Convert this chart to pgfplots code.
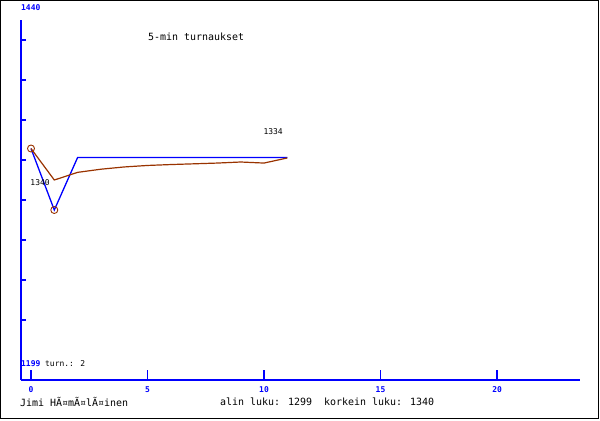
\documentclass[border=0pt]{standalone}
\usepackage{pgfplots}
\pgfplotsset{compat=1.18}
\usepackage{fontspec}
\setmainfont{DejaVu Sans Mono}
\definecolor{brn}{RGB}{153,51,0}
\begin{document}
\begin{tikzpicture}[x=1bp,y=1bp]
\useasboundingbox (0,0) rectangle (600,420);
\draw[line width=1.2bp] (0.6,1.2) rectangle (598.8,419.4);
\begin{axis}[
  at={(21bp,40bp)}, anchor=south west,
  scale only axis, width=559bp, height=360bp,
  xmin=-0.429, xmax=23.56, ymin=1185.67, ymax=1425.67,
  axis lines=left,
  axis line style={-, blue, line width=1.2bp},
  xtick={0,5,10,15,20},
  ytick={1225.67,1252.33,1279,1305.67,1332.33,1359,1385.67,1412.33},
  yticklabels={},
  tick align=inside,
  x tick style={blue, line width=1.2bp, /pgfplots/major tick length=10bp},
  y tick style={blue, line width=1.2bp, /pgfplots/major tick length=5bp},
  x tick label style={font=\fontsize{8}{8}\selectfont\bfseries, text=blue, anchor=north, inner sep=0pt},
  xticklabel shift=6bp,
  /pgf/number format/assume math mode=true,
  clip=false,
]
\addplot[blue, line width=1.3bp] coordinates {
(0,1340) (1,1299) (2,1334) (3,1334) (4,1334) (5,1334) (6,1334) (7,1334) (8,1334) (9,1334) (10,1334) (11,1334)};
\addplot[brn, line width=1.2bp] coordinates {
(0,1340) (1,1319) (2,1324.1) (3,1326.2) (4,1327.7) (5,1328.7) (6,1329.3) (7,1329.8) (8,1330.3) (9,1331) (10,1330.3) (11,1333.7)};
\addplot[brn, only marks, mark=o, mark size=3.5bp, mark options={line width=0.9bp}] coordinates {(0,1340) (1,1299)};
\node[font=\fontsize{8}{8}\selectfont] at (axis cs:0.39,1317) {1340};
\node[font=\fontsize{8}{8}\selectfont] at (axis cs:10.39,1351) {1334};
\end{axis}
\node[anchor=west, inner sep=0pt, text=blue, font=\fontsize{8}{8}\selectfont\bfseries] at (21,412) {1440};
\node[anchor=west, inner sep=0pt, text=blue, font=\fontsize{8}{8}\selectfont\bfseries] at (21,56) {1199};
\node[anchor=west, inner sep=0pt, font=\fontsize{8}{8}\selectfont] at (45,56) {turn.: 2};
\node[anchor=west, inner sep=0pt, font=\fontsize{10}{10}\selectfont] at (148,383) {5-min turnaukset};
\node[anchor=west, inner sep=0pt, font=\fontsize{10}{10}\selectfont] at (20,18) {Jimi HÃ¤mÃ¤lÃ¤inen};
\node[anchor=west, inner sep=0pt, font=\fontsize{10}{10}\selectfont] at (220,18) {alin luku: 1299\ \ korkein luku: 1340};
\end{tikzpicture}
\end{document}
